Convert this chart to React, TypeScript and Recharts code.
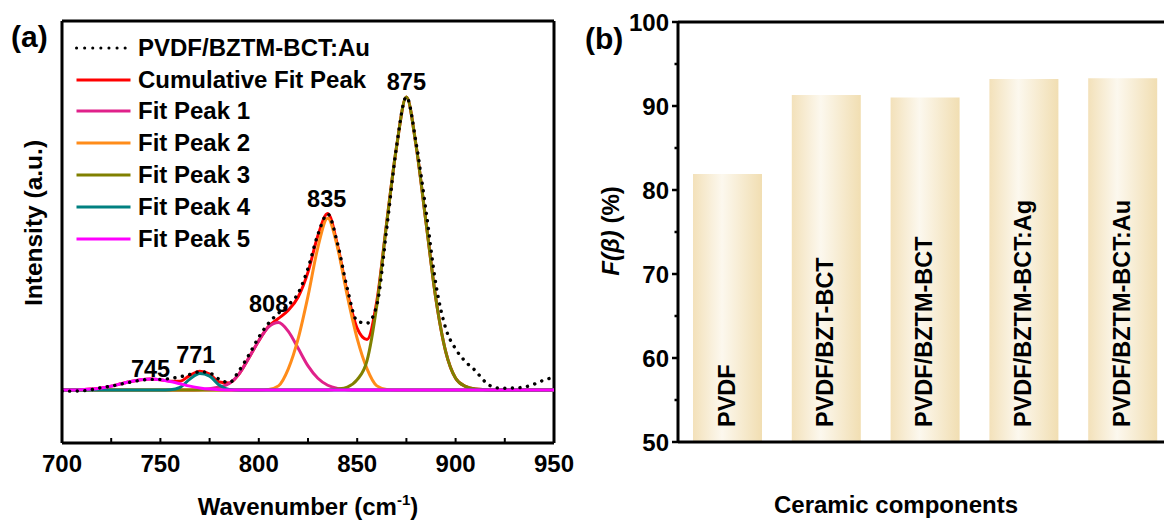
import React from 'react';
import {
  LineChart, Line, XAxis, YAxis, ReferenceLine, ReferenceDot, Legend, Label,
  BarChart, Bar, LabelList,
} from 'recharts';

const FONT = 'Arial, "Liberation Sans", sans-serif';

// (a) FTIR fit, wavenumber grid in cm-1
const wavenumbers = [
  700, 705, 710, 715, 720, 725, 730, 735, 740, 745, 750, 755, 760, 765, 770, 775, 780,
  785, 790, 795, 800, 805, 810, 815, 820, 825, 830, 835, 840, 845, 850, 855, 860, 865,
  870, 875, 880, 885, 890, 895, 900, 905, 910, 915, 920, 925, 930, 935, 940, 945, 950,
];
const measured = [
  -0.004, -0.004, -0.003, 0.001, 0.008, 0.013, 0.02, 0.027, 0.033, 0.036, 0.036, 0.039, 0.045,
  0.053, 0.062, 0.058, 0.036, 0.025, 0.066, 0.12, 0.18, 0.228, 0.262, 0.29, 0.33, 0.415, 0.53,
  0.6, 0.5, 0.345, 0.235, 0.228, 0.29, 0.55, 0.83, 1.0, 0.84, 0.61, 0.36, 0.21, 0.14, 0.097,
  0.066, 0.028, 0.008, 0.006, 0.007, 0.01, 0.02, 0.034, 0.043,
];
const cumulativeFit = [
  0, 0, 0.001, 0.003, 0.007, 0.013, 0.021, 0.029, 0.035, 0.0375, 0.035, 0.03, 0.03, 0.05,
  0.064, 0.054, 0.027, 0.024, 0.055, 0.11, 0.168, 0.217, 0.244, 0.272, 0.317, 0.402, 0.526,
  0.602, 0.494, 0.331, 0.21, 0.172, 0.304, 0.572, 0.83, 1.0, 0.83, 0.57, 0.31, 0.13, 0.04,
  0.012, 0.003, 0.001, 0, 0, 0, 0, 0, 0, 0,
];
const fitPeak1 = [
  0, 0, 0, 0, 0, 0, 0, 0, 0, 0, 0, 0, 0, 0, 0.001, 0.004, 0.01, 0.022, 0.055, 0.11, 0.168,
  0.215, 0.23, 0.2, 0.142, 0.082, 0.04, 0.016, 0.005, 0.001, 0, 0, 0, 0, 0, 0, 0, 0, 0, 0, 0,
  0, 0, 0, 0, 0, 0, 0, 0, 0, 0,
];
const fitPeak2 = [
  0, 0, 0, 0, 0, 0, 0, 0, 0, 0, 0, 0, 0, 0, 0, 0, 0, 0, 0, 0, 0, 0.002, 0.014, 0.072, 0.175,
  0.32, 0.486, 0.586, 0.486, 0.32, 0.175, 0.072, 0.014, 0.002, 0, 0, 0, 0, 0, 0, 0, 0, 0, 0,
  0, 0, 0, 0, 0, 0, 0,
];
const fitPeak3 = [
  0, 0, 0, 0, 0, 0, 0, 0, 0, 0, 0, 0, 0, 0, 0, 0, 0, 0, 0, 0, 0, 0, 0, 0, 0, 0, 0, 0, 0.003,
  0.01, 0.035, 0.1, 0.29, 0.57, 0.83, 1.0, 0.83, 0.57, 0.31, 0.13, 0.04, 0.012, 0.003, 0.001,
  0, 0, 0, 0, 0, 0, 0,
];
const fitPeak4 = [
  0, 0, 0, 0, 0, 0, 0, 0, 0, 0, 0, 0.001, 0.009, 0.037, 0.056, 0.047, 0.016, 0.002, 0, 0, 0,
  0, 0, 0, 0, 0, 0, 0, 0, 0, 0, 0, 0, 0, 0, 0, 0, 0, 0, 0, 0, 0, 0, 0, 0, 0, 0, 0, 0, 0, 0,
];
const fitPeak5 = [
  0, 0, 0.001, 0.003, 0.007, 0.013, 0.021, 0.029, 0.035, 0.0375, 0.035, 0.029, 0.021, 0.013,
  0.007, 0.003, 0.001, 0, 0, 0, 0, 0, 0, 0, 0, 0, 0, 0, 0, 0, 0, 0, 0, 0, 0, 0, 0, 0, 0, 0, 0,
  0, 0, 0, 0, 0, 0, 0, 0, 0, 0,
];
const peakNames = ['745', '771', '808', '835', '875'];
const peakLabelWn = [745, 768, 805, 834.5, 875];
const peakLabelAt = [0.045, 0.091, 0.267, 0.626, 1.024];
const wnTicks = [700, 725, 750, 775, 800, 825, 850, 875, 900, 925, 950];
const Y_MIN = -0.181;
const Y_MAX = 1.259;

// (b) beta phase fraction
const components = ['PVDF', 'PVDF/BZT-BCT', 'PVDF/BZTM-BCT', 'PVDF/BZTM-BCT:Ag', 'PVDF/BZTM-BCT:Au'];
const betaFraction = [81.9, 91.3, 91.0, 93.2, 93.3];
const betaTicks = [50, 55, 60, 65, 70, 75, 80, 85, 90, 95, 100];

const spectrum = wavenumbers.map((wn, i) => ({
  wn,
  measured: measured[i],
  cumulative: cumulativeFit[i],
  p1: fitPeak1[i],
  p2: fitPeak2[i],
  p3: fitPeak3[i],
  p4: fitPeak4[i],
  p5: fitPeak5[i],
}));
const betaData = components.map((name, i) => ({ name, value: betaFraction[i] }));

const fitSeries = [
  { key: 'cumulative', name: 'Cumulative Fit Peak', color: '#FF0000' },
  { key: 'p1', name: 'Fit Peak 1', color: '#E0218A' },
  { key: 'p2', name: 'Fit Peak 2', color: '#FF8C1A' },
  { key: 'p3', name: 'Fit Peak 3', color: '#808000' },
  { key: 'p4', name: 'Fit Peak 4', color: '#008080' },
  { key: 'p5', name: 'Fit Peak 5', color: '#FF00FF' },
];
const legendItems = [{ key: 'measured', name: 'PVDF/BZTM-BCT:Au', color: '#000', dotted: true }, ...fitSeries];

const textStyle = { fontFamily: FONT, fontWeight: 'bold' as const, fill: '#000' };
const axisLine = { stroke: '#000', strokeWidth: 3 };

const renderWnTick = (p: any) => (
  <g>
    <line x1={p.x} x2={p.x} y1={p.y} y2={p.y - 5} stroke="#000" strokeWidth={2} />
    {p.payload.value % 50 === 0 && (
      <text x={p.x} y={p.y + 29} textAnchor="middle" fontSize={24} {...textStyle}>{p.payload.value}</text>
    )}
  </g>
);

const renderBetaTick = (p: any) => {
  const major = p.payload.value % 10 === 0;
  return (
    <g>
      <line x1={p.x - (major ? 6 : 3.5)} x2={p.x} y1={p.y} y2={p.y} stroke="#000" strokeWidth={2.5} />
      {major && (
        <text x={p.x - 9} y={p.y + 8.5} textAnchor="end" fontSize={24} {...textStyle}>{p.payload.value}</text>
      )}
    </g>
  );
};

const renderLegend = () => (
  <div style={{ fontFamily: FONT, fontWeight: 'bold', fontSize: 24, color: '#000' }}>
    {legendItems.map((item) => (
      <div key={item.key} style={{ display: 'flex', alignItems: 'center', height: 31.8 }}>
        <svg width={57} height={8} style={{ marginLeft: 3, marginRight: 6, flex: 'none' }}>
          <line
            x1={1.5} y1={4} x2={55.5} y2={4}
            stroke={item.color}
            strokeWidth={3}
            strokeDasharray={'dotted' in item ? '0.1 8' : undefined}
            strokeLinecap={'dotted' in item ? 'round' : 'butt'}
          />
        </svg>
        <span style={{ lineHeight: 1, whiteSpace: 'nowrap' }}>{item.name}</span>
      </div>
    ))}
  </div>
);

const renderBarName = (p: any) => {
  const x = Number(p.x) + Number(p.width) / 2 + 7;
  const y = Number(p.y) + Number(p.height) - 15;
  return (
    <text transform={`translate(${x},${y}) rotate(-90)`} fontSize={23.5} {...textStyle}>{p.value}</text>
  );
};

const SpectrumPanel = () => (
  <LineChart width={580} height={520} data={spectrum} margin={{ top: 21, right: 26, bottom: 37, left: 42 }}>
    <XAxis
      dataKey="wn" type="number" domain={[700, 950]} allowDataOverflow
      ticks={wnTicks} interval={0} tickSize={0} tickMargin={0} tickLine={false}
      tick={renderWnTick} axisLine={axisLine} height={40}
    >
      <Label
        content={(p: any) => (
          <text x={p.viewBox.x + p.viewBox.width / 2} y={p.viewBox.y + 72} textAnchor="middle" fontSize={24} {...textStyle}>
            Wavenumber (cm<tspan dy={-10} fontSize={15}>-1</tspan><tspan dy={10}>)</tspan>
          </text>
        )}
      />
    </XAxis>
    <YAxis type="number" domain={[Y_MIN, Y_MAX]} allowDataOverflow width={20} tick={false} tickLine={false} axisLine={axisLine}>
      <Label
        content={(p: any) => (
          <text
            transform={`translate(${p.viewBox.x + p.viewBox.width - 20.3},${p.viewBox.y + p.viewBox.height / 2 - 9}) rotate(-90)`}
            textAnchor="middle" fontSize={24.5} {...textStyle}
          >
            Intensity (a.u.)
          </text>
        )}
      />
    </YAxis>
    <ReferenceLine x={950} stroke="#000" strokeWidth={3} />
    <ReferenceLine y={Y_MAX} stroke="#000" strokeWidth={3} />
    {fitSeries.map((s) => (
      <Line key={s.key} type="monotone" dataKey={s.key} name={s.name} stroke={s.color} strokeWidth={3} dot={false} activeDot={false} isAnimationActive={false} />
    ))}
    <Line
      type="monotone" dataKey="measured" name="PVDF/BZTM-BCT:Au" stroke="#000" strokeWidth={3.4}
      strokeDasharray="0.1 7.5" strokeLinecap="round" dot={false} activeDot={false} isAnimationActive={false}
    />
    {peakNames.map((name, i) => (
      <ReferenceDot
        key={name} x={peakLabelWn[i]} y={peakLabelAt[i]} r={1}
        shape={(p: any) => (
          <text x={p.cx} y={p.cy} textAnchor="middle" fontSize={23.5} {...textStyle}>{name}</text>
        )}
      />
    ))}
    <Legend
      layout="vertical" align="center" verticalAlign="middle"
      content={renderLegend}
      wrapperStyle={{ left: 72, top: 32, width: 330, height: 'auto' }}
    />
  </LineChart>
);

const BetaPanel = () => (
  <BarChart width={612} height={520} data={betaData} margin={{ top: 22, right: 20, bottom: 38, left: 38 }}>
    <defs>
      <linearGradient id="betaBar" x1="0" y1="0" x2="1" y2="0">
        <stop offset="0%" stopColor="#F3E1BA" />
        <stop offset="42%" stopColor="#FCF8EE" />
        <stop offset="100%" stopColor="#F1DEB2" />
      </linearGradient>
    </defs>
    <XAxis dataKey="name" tick={false} tickLine={false} axisLine={axisLine} height={40}>
      <Label
        content={(p: any) => (
          <text x={p.viewBox.x + 218} y={p.viewBox.y + 71} textAnchor="middle" fontSize={24} {...textStyle}>
            Ceramic components
          </text>
        )}
      />
    </XAxis>
    <YAxis
      type="number" domain={[50, 100]} allowDataOverflow ticks={betaTicks} interval={0}
      tickSize={0} tickMargin={0} tickLine={false} tick={renderBetaTick} axisLine={axisLine} width={60}
    >
      <Label
        content={(p: any) => (
          <text
            transform={`translate(${p.viewBox.x + 1},${p.viewBox.y + p.viewBox.height / 2 - 1}) rotate(-90)`}
            textAnchor="middle" fontSize={24} {...textStyle}
          >
            <tspan fontStyle="italic">F(β)</tspan> (%)
          </text>
        )}
      />
    </YAxis>
    <ReferenceLine y={100} stroke="#000" strokeWidth={3} />
    <Bar dataKey="value" fill="url(#betaBar)" barSize={69} isAnimationActive={false}>
      <LabelList dataKey="name" content={renderBarName} />
    </Bar>
  </BarChart>
);

export default function App() {
  return (
    <div style={{ position: 'absolute', left: 0, top: 0, width: 1164, height: 520, overflow: 'hidden', background: '#fff' }}>
      <div style={{ position: 'absolute', left: 0, top: 0 }}>
        <SpectrumPanel />
      </div>
      <div style={{ position: 'absolute', left: 580, top: 0 }}>
        <BetaPanel />
      </div>
      <svg width={1164} height={520} style={{ position: 'absolute', left: 0, top: 0, pointerEvents: 'none' }}>
        <text x={11} y={47} fontSize={30} {...textStyle}>(a)</text>
        <text x={585} y={49} fontSize={30} {...textStyle}>(b)</text>
      </svg>
    </div>
  );
}
